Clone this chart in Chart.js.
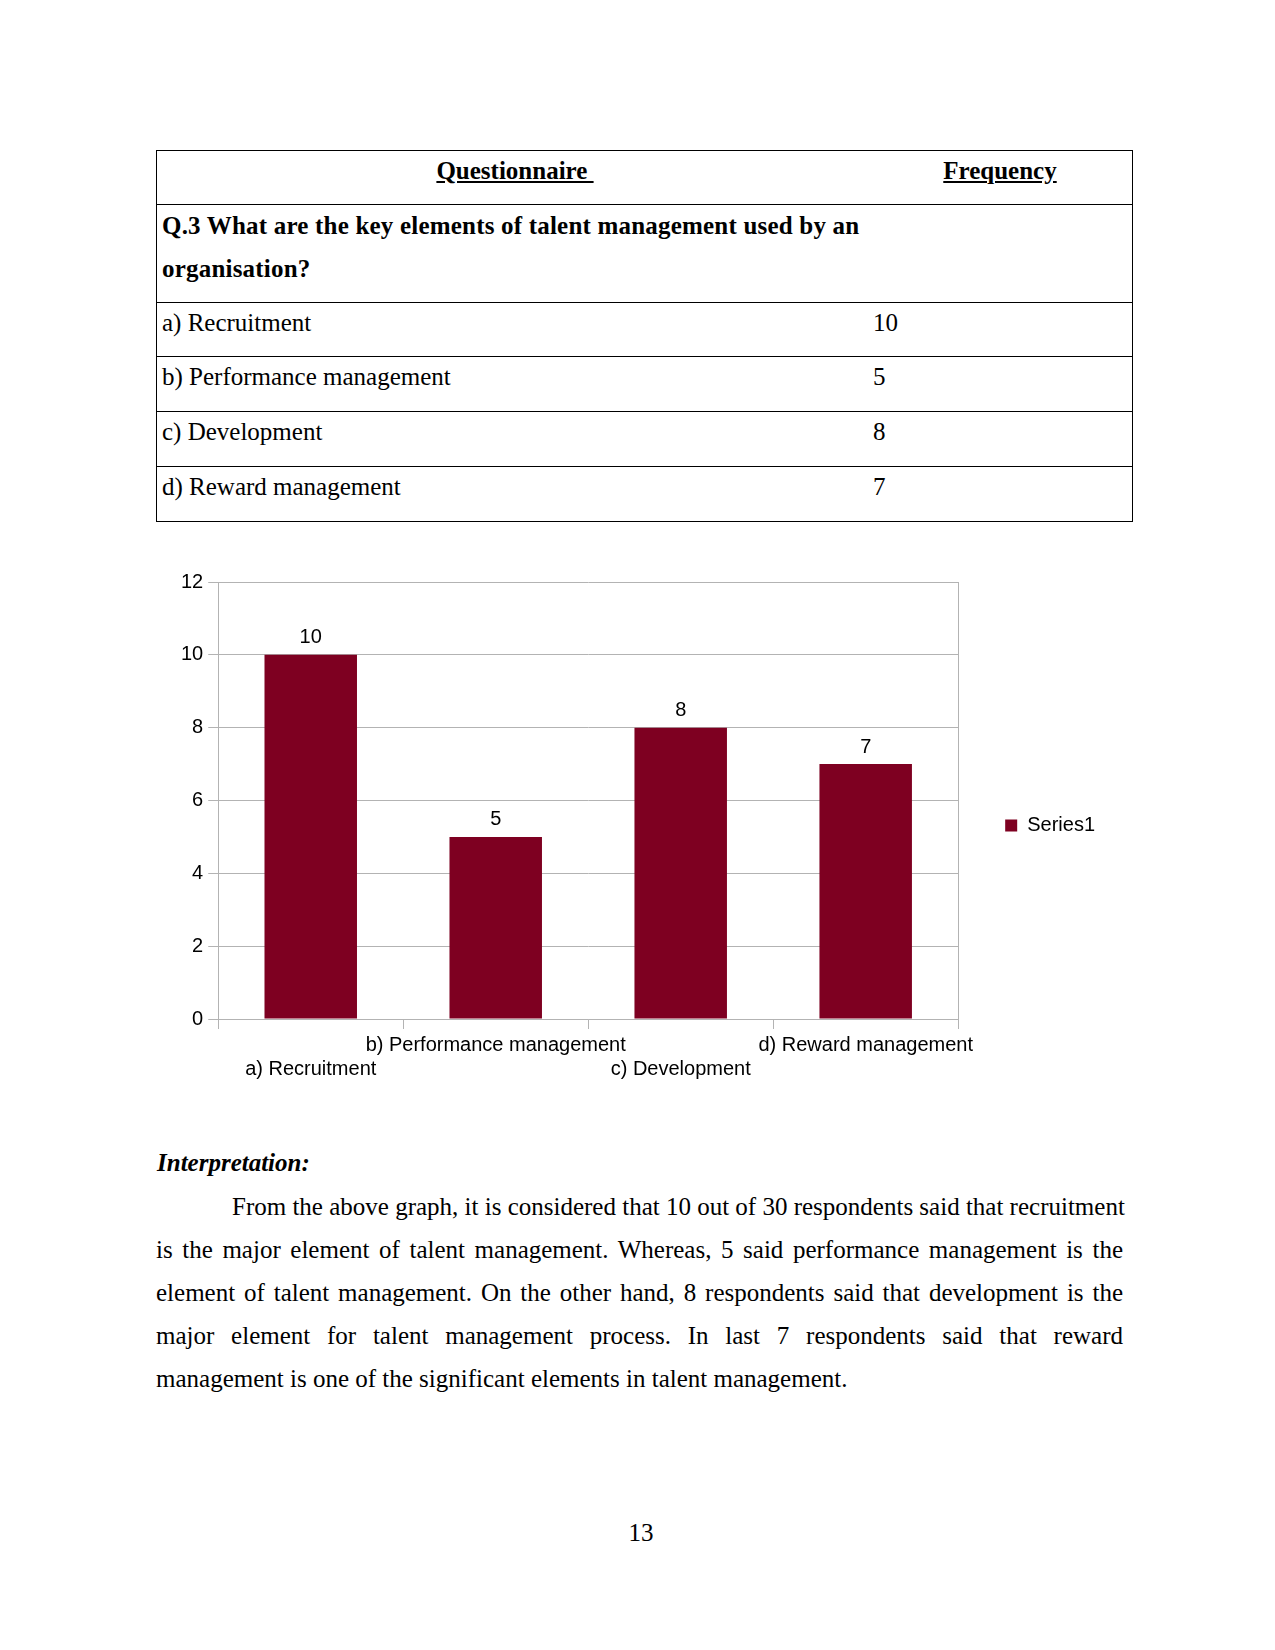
<!DOCTYPE html>
<html>
<head>
<meta charset="utf-8">
<script src="https://cdn.jsdelivr.net/npm/chart.js@4.4.1/dist/chart.umd.min.js"></script>
<style>
    body { margin: 0; width: 1275px; height: 1650px; background: #fff; position: relative; font-family: "Liberation Serif", "Times New Roman", serif; font-size: 25px; color: #000; }
    .abs { position: absolute; white-space: nowrap; line-height: 29px; }
    .box { position: absolute; left: 156px; top: 150px; width: 977px; height: 372px; border: 1px solid #000; box-sizing: border-box; }
    .hline { position: absolute; left: 156px; width: 977px; height: 0; border-top: 1px solid #000; }
    .hdr { font-weight: bold; text-decoration: underline; text-align: center; }
    .para { position: absolute; left: 156px; width: 967px; line-height: 43px; }
    .para div { text-align: justify; text-align-last: justify; white-space: nowrap; }
    .para div.last { text-align-last: left; }
    #chartBox { position: absolute; left: 160px; top: 560px; width: 955px; height: 530px; }
</style>
</head>
<body>
<div class="box"></div>
<div class="hline" style="top:204px"></div>
<div class="hline" style="top:302px"></div>
<div class="hline" style="top:356px"></div>
<div class="hline" style="top:411px"></div>
<div class="hline" style="top:466px"></div>

<div class="abs hdr" style="left:157px; width:716px; top:156px">Questionnaire&nbsp;</div>
<div class="abs hdr" style="left:868px; width:264px; top:156px">Frequency</div>
<div class="abs" style="left:162px; top:204px; line-height:43px; font-weight:bold; letter-spacing:0.2px">Q.3 What are the key elements of talent management used by an<br>organisation?</div>
<div id="rows"></div>

<div class="abs" style="left:157px; top:1148px; font-weight:bold; font-style:italic">Interpretation:</div>
<div class="para" style="top:1185px">
    <div style="text-indent:76px">From the above graph, it is considered that 10 out of 30 respondents said that recruitment</div>
    <div>is the major element of talent management. Whereas, 5 said performance management is the</div>
    <div>element of talent management. On the other hand, 8 respondents said that development is the</div>
    <div>major element for talent management process. In last 7 respondents said that reward</div>
    <div class="last">management is one of the significant elements in talent management.</div>
</div>
<div class="abs" style="left:611px; width:60px; text-align:center; top:1518px">13</div>

<div id="chartBox"><canvas id="barChart"></canvas></div>

<script>
    const categories = ["a) Recruitment", "b) Performance management", "c) Development", "d) Reward management"];
    const frequency = [10, 5, 8, 7];
    const rowTops = [303, 357, 412, 467];
    const yTicks = [0, 2, 4, 6, 8, 10, 12];

    // table rows under the question
    const rowsDiv = document.getElementById('rows');
    categories.forEach((cat, i) => {
        const label = document.createElement('div');
        label.className = 'abs';
        label.style.left = '162px';
        label.style.top = (rowTops[i] + 5) + 'px';
        label.textContent = cat;
        rowsDiv.appendChild(label);
        const num = document.createElement('div');
        num.className = 'abs';
        num.style.left = '873px';
        num.style.top = (rowTops[i] + 5) + 'px';
        num.textContent = frequency[i];
        rowsDiv.appendChild(num);
    });

    const gridGray = '#b3b3b3';
    const barColor = '#7e0021';

    // values above the bars
    const valueLabels = {
        id: 'valueLabels',
        afterDatasetsDraw(chart) {
            const ctx = chart.ctx;
            const meta = chart.getDatasetMeta(0);
            ctx.save();
            ctx.font = '20px "Liberation Sans", Arial, sans-serif';
            ctx.fillStyle = '#000';
            ctx.textAlign = 'center';
            ctx.textBaseline = 'middle';
            meta.data.forEach((bar, i) => {
                ctx.fillText(String(frequency[i]), bar.x, bar.y - 17);
            });
            ctx.restore();
        }
    };

    // nudge the legend up a little, it sits slightly above the middle
    const legendNudge = {
        id: 'legendNudge',
        afterLayout(chart) {
            chart.legend.top -= 8;
            chart.legend.bottom -= 8;
        }
    };

    Chart.defaults.font.family = '"Liberation Sans", Arial, sans-serif';
    Chart.defaults.font.size = 20;
    Chart.defaults.color = '#000';

    new Chart(document.getElementById('barChart').getContext('2d'), {
        type: 'bar',
        data: {
            labels: categories,
            datasets: [{
                label: 'Series1',
                data: frequency,
                backgroundColor: barColor,
                categoryPercentage: 0.5,
                barPercentage: 1
            }]
        },
        options: {
            responsive: true,
            maintainAspectRatio: false,
            animation: false,
            layout: { padding: { top: 22, left: 16, right: 10, bottom: 5 } },
            plugins: {
                legend: {
                    position: 'right',
                    labels: { boxWidth: 12, boxHeight: 12, padding: 10, font: { size: 20 } }
                },
                tooltip: { enabled: false }
            },
            scales: {
                x: {
                    grid: { offset: true, color: 'transparent', tickColor: gridGray, tickLength: 10 },
                    border: { color: gridGray },
                    ticks: {
                        autoSkip: false,
                        maxRotation: 0,
                        minRotation: 0,
                        padding: 4,
                        // staggered labels: a and c sit one line lower
                        callback: function(value, index) {
                            const text = categories[index];
                            return index % 2 === 0 ? ['', text] : [text, ''];
                        }
                    }
                },
                y: {
                    min: 0,
                    max: 12,
                    afterBuildTicks: function(scale) {
                        scale.ticks = yTicks.map(v => ({ value: v }));
                    },
                    grid: { color: gridGray, tickColor: gridGray, tickLength: 10 },
                    border: { color: gridGray },
                    ticks: { padding: 5 }
                },
                y2: {
                    position: 'right',
                    min: 0,
                    max: 12,
                    grid: { drawOnChartArea: false, drawTicks: false },
                    border: { display: true, color: gridGray },
                    ticks: { display: false },
                    afterFit: function(scale) { scale.width = 37; }
                }
            }
        },
        plugins: [valueLabels, legendNudge]
    });
</script>
</body>
</html>
